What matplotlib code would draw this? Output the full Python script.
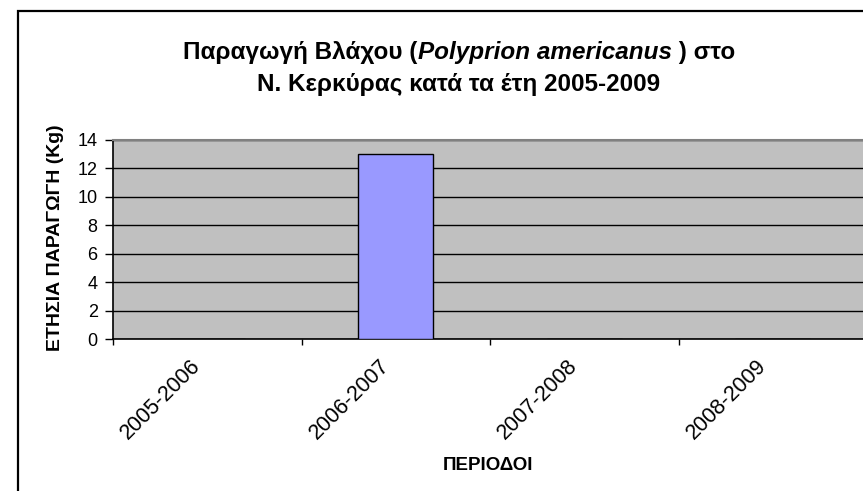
import matplotlib.pyplot as plt
import matplotlib.patches as patches
from matplotlib.transforms import ScaledTranslation

periods = ['2005-2006', '2006-2007', '2007-2008', '2008-2009']
production_kg = [0, 13, 0, 0]

W, H = 863, 491
plt.rcParams['font.family'] = ['Liberation Sans', 'DejaVu Sans']
fig = plt.figure(figsize=(W / 100, H / 100), dpi=100)

# plot area in pixels: left 113, right 867 (runs off the edge), top 140, bottom 339
ax = fig.add_axes([113 / W, 1 - 339 / H, (867 - 113) / W, (339 - 140) / H])
ax.set_facecolor('#C0C0C0')
x = list(range(len(periods)))
ax.bar(x, production_kg, width=0.4, color='#9999FF', edgecolor='black', linewidth=1, zorder=3)

ax.set_xlim(-0.5, len(periods) - 0.5)
ax.set_ylim(0, 14)
ax.set_yticks(range(0, 15, 2))
ax.yaxis.grid(True, color='black', linewidth=1, zorder=1)
ax.set_axisbelow(True)
ax.tick_params(axis='y', length=6, width=1, pad=5, labelsize=13)

# tick marks on category boundaries, labels on category centres
ax.set_xticks([i - 0.5 for i in range(len(periods) + 1)])
ax.set_xticklabels([])
ax.tick_params(axis='x', which='major', length=4, width=1)
ax.set_xticks(x, periods, minor=True)
ax.tick_params(axis='x', which='minor', length=0, pad=12, labelsize=15.5)
for lab in ax.get_xticklabels(minor=True):
    lab.set_rotation(45)
    lab.set_ha('right')
    lab.set_va('top')
    lab.set_rotation_mode('anchor')
    lab.set_transform(lab.get_transform() + ScaledTranslation(-17 / 100, 0, fig.dpi_scale_trans))

for s in ['left', 'bottom']:
    ax.spines[s].set_color('black')
    ax.spines[s].set_linewidth(1.2)
ax.spines['top'].set_color('#808080')
ax.spines['top'].set_linewidth(1.5)
ax.spines['right'].set_visible(False)

# outer chart frame, cut off at right and bottom
fig.patches.append(patches.Rectangle((17.5 / W, -0.2), 1.5, 1.2 - 10.5 / H, transform=fig.transFigure,
                                     fill=False, edgecolor='black', linewidth=1.6))

# title, with the latin species name in italics
fig.canvas.draw()
r = fig.canvas.get_renderer()
parts = [('Παραγωγή Βλάχου (', 'normal'), ('Polyprion americanus', 'italic'), (' ) στο', 'normal')]
tsize = 17.5
texts = [fig.text(0, 1 - 52 / H, t, fontsize=tsize, fontweight='bold', style=st, va='center') for t, st in parts]
widths = [t.get_window_extent(r).width for t in texts]
xpos = 459 - sum(widths) / 2
for t, w in zip(texts, widths):
    t.set_x(xpos / W)
    xpos += w
fig.text(459 / W, 1 - 84 / H, 'Ν. Κερκύρας κατά τα έτη 2005-2009', fontsize=tsize, fontweight='bold',
         ha='center', va='center')

fig.text(56 / W, 1 - 238 / H, 'ΕΤΗΣΙΑ ΠΑΡΑΓΩΓΗ (Kg)', fontsize=14, fontweight='bold',
         rotation=90, ha='center', va='center')
fig.text(488 / W, 1 - 465 / H, 'ΠΕΡΙΟΔΟΙ', fontsize=13.5, fontweight='bold', ha='center', va='center')

fig.savefig('out.png', dpi=100)
